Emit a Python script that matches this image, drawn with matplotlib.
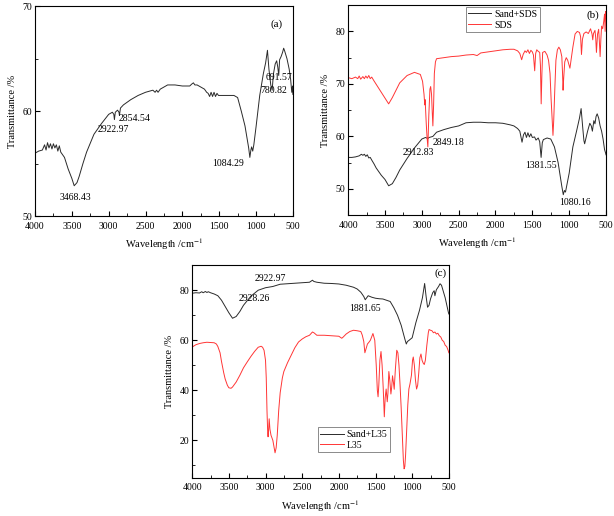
import numpy as np
import matplotlib
matplotlib.use("Agg")
import matplotlib.pyplot as plt
from matplotlib.ticker import MultipleLocator

plt.rcParams['font.family'] = ['Liberation Serif', 'DejaVu Serif']
plt.rcParams['mathtext.fontset'] = 'stix'

# — DATA —
# panel (a): sand
wn_a = [4000, 3950, 3900, 3870, 3850, 3830, 3810, 3790, 3770, 3750, 3730, 3710, 3690, 3670,
        3650, 3600, 3550, 3500, 3468, 3430, 3400, 3350, 3300, 3200, 3100, 3000, 2950,
        2930, 2922, 2910, 2880, 2860, 2854, 2840, 2800, 2700, 2600, 2500, 2400, 2370,
        2350, 2330, 2300, 2200, 2100, 2000, 1900, 1870, 1850, 1830, 1800, 1750, 1700,
        1670, 1650, 1630, 1610, 1590, 1570, 1550, 1530, 1510, 1500, 1400, 1300, 1250,
        1200, 1150, 1100, 1084, 1070, 1060, 1045, 1030, 1000, 950, 900, 870, 845, 825,
        800, 781, 765, 740, 720, 705, 692, 680, 660, 640, 625, 610, 580, 550, 530,
        515, 505, 500]
tr_a = [56.0, 56.2, 56.3, 56.8, 56.3, 57.0, 56.5, 56.9, 56.4, 56.9, 56.5, 56.8, 56.2, 56.7,
        56.1, 55.6, 54.5, 53.6, 52.9, 53.2, 53.8, 55.0, 56.1, 57.8, 58.8, 59.7, 59.9,
        59.7, 59.2, 59.9, 60.1, 59.9, 59.6, 60.3, 60.6, 61.1, 61.5, 61.8, 62.0, 61.8,
        62.0, 61.8, 62.1, 62.5, 62.5, 62.4, 62.4, 62.6, 62.7, 62.5, 62.5, 62.3, 62.1,
        61.8, 61.7, 61.4, 61.8, 61.4, 61.8, 61.4, 61.7, 61.5, 61.5, 61.5, 61.5, 61.3,
        60.0, 58.6, 56.5, 55.6, 56.3, 56.6, 56.2, 56.8, 58.5, 61.5, 63.6, 64.6, 65.8, 64.0,
        62.5, 62.0, 63.5, 64.5, 64.8, 64.2, 63.4, 64.9, 65.2, 65.6, 66.0, 65.7, 65.0, 64.0, 63.0,
        61.8, 62.4, 61.6]

# panel (b): Sand+SDS and SDS
wn_b_sand = [4000, 3950, 3900, 3850, 3820, 3800, 3780, 3760, 3740, 3720, 3700, 3680, 3650,
             3620, 3600, 3550, 3500, 3450, 3400, 3350, 3300, 3200, 3100, 3000, 2950, 2920,
             2900, 2850, 2800, 2700, 2600, 2500, 2400, 2300, 2200, 2100, 2000, 1900, 1800,
             1750, 1700, 1670, 1640, 1620, 1600, 1580, 1560, 1540, 1520, 1500, 1470, 1450,
             1420, 1400, 1381, 1365, 1350, 1300, 1250, 1200, 1150, 1100, 1080, 1065, 1050,
             1000, 950, 900, 860, 838, 815, 800, 790, 775, 750, 720, 700, 685, 665, 650,
             635, 620, 600, 580, 560, 540, 520, 505, 500]
tr_b_sand = [56.0, 56.0, 56.1, 56.3, 56.6, 56.4, 56.6, 56.2, 56.5, 55.9, 56.0, 55.5, 54.8,
             54.0, 53.6, 52.6, 51.8, 50.6, 51.0, 52.2, 53.6, 55.8, 57.8, 59.5, 59.8, 59.6,
             59.8, 60.0, 60.8, 61.3, 61.7, 62.0, 62.6, 62.7, 62.7, 62.6, 62.6, 62.5, 62.2,
             62.0, 61.5, 61.0, 58.9, 60.3, 60.8, 59.8, 60.7, 59.9, 60.5, 59.8, 59.9, 59.3,
             59.7, 59.0, 56.0, 58.8, 59.4, 59.7, 59.5, 58.0, 55.0, 50.5, 48.9, 49.7, 49.4,
             53.0, 58.0, 61.0, 63.5, 65.3, 61.5, 59.2, 58.6, 59.5, 61.0, 62.5, 62.0, 61.0, 63.0, 62.4,
             63.8, 64.3, 63.5, 62.0, 61.0, 59.5, 57.5, 56.8, 56.5]

wn_b_sds = [4000, 3950, 3900, 3870, 3850, 3830, 3800, 3780, 3760, 3740, 3720, 3700, 3680,
            3650, 3600, 3550, 3500, 3450, 3400, 3350, 3300, 3200, 3100, 3020, 2990, 2970,
            2960, 2955, 2940, 2930, 2918, 2905, 2890, 2880, 2868, 2858, 2850, 2840, 2830,
            2815, 2800, 2700, 2600, 2500, 2400, 2300, 2250, 2200, 2100, 2000, 1900, 1800,
            1750, 1700, 1670, 1645, 1625, 1600, 1580, 1560, 1540, 1520, 1500, 1485, 1468,
            1455, 1440, 1420, 1400, 1390, 1380, 1370, 1360, 1330, 1300, 1280, 1260, 1245,
            1230, 1220, 1210, 1195, 1180, 1160, 1140, 1120, 1100, 1090, 1083, 1075, 1060,
            1040, 1020, 1000, 990, 970, 950, 920, 890, 860, 845, 833, 820, 800, 770, 740,
            710, 690, 680, 670, 650, 640, 630, 615, 600, 590, 580, 570, 560, 545, 530, 520,
            512, 505, 500]
tr_b_sds = [71.2, 71.0, 71.3, 71.0, 71.5, 70.9, 71.4, 71.0, 71.5, 71.1, 71.6, 71.0, 71.3,
            70.6, 69.5, 68.4, 67.3, 66.2, 67.4, 68.8, 70.2, 71.6, 72.2, 71.8, 70.5, 68.0,
            66.0, 67.0, 62.5, 60.0, 58.0, 64.0, 69.0, 69.5, 68.0, 64.5, 62.0, 66.0, 72.0,
            74.2, 74.8, 75.0, 75.2, 75.3, 75.5, 75.6, 75.4, 75.9, 76.1, 76.3, 76.5, 76.6,
            76.6, 76.3, 75.8, 74.6, 75.6, 76.3, 76.0, 76.5, 75.8, 76.4, 76.1, 75.5, 72.5,
            75.8, 76.5, 76.2, 76.0, 73.5, 66.2, 72.0, 76.0, 76.2, 75.5, 74.5, 72.0, 67.0,
            63.0, 60.2, 63.0, 69.0, 74.5, 76.5, 77.0, 76.5, 75.2, 72.0, 68.8, 71.0, 74.2,
            75.0, 74.5, 73.5, 73.0, 75.0, 77.0, 79.5, 80.0, 79.8, 79.0, 75.6, 78.5, 79.6,
            79.9, 79.6, 80.5, 79.5, 78.4, 79.6, 80.2, 78.8, 76.0, 79.5, 80.4, 78.0, 75.2,
            78.5, 81.0, 80.5, 82.0, 83.3, 80.0, 83.8, 82.5]

# panel (c): Sand+L35 and L35
wn_c_sand = [4000, 3950, 3900, 3870, 3850, 3820, 3800, 3780, 3750, 3700, 3650, 3600, 3550,
             3500, 3450, 3400, 3350, 3300, 3200, 3100, 3000, 2900, 2800, 2700, 2600, 2500,
             2400, 2360, 2340, 2300, 2200, 2100, 2000, 1900, 1800, 1750, 1700, 1660, 1640,
             1620, 1600, 1550, 1500, 1450, 1400, 1350, 1300, 1250, 1200, 1150, 1100, 1080,
             1065, 1050, 1000, 950, 900, 860, 830, 810, 790, 770, 750, 720, 700, 690, 670,
             640, 620, 600, 580, 550, 520, 505, 500]
tr_c_sand = [78.8, 79.0, 78.9, 79.4, 79.0, 79.5, 79.1, 79.4, 79.0, 78.5, 77.8, 76.0, 73.5,
             71.0, 68.8, 69.5, 71.5, 74.0, 77.6, 80.0, 81.0, 81.5, 82.4, 82.6, 82.8, 83.0,
             83.2, 84.0, 83.5, 83.2, 82.8, 82.7, 82.5, 82.0, 81.2, 80.5, 79.2, 77.5, 76.2,
             77.0, 77.8, 77.2, 76.8, 76.6, 76.5, 76.0, 75.5, 73.0, 70.0, 66.0, 60.5, 58.5,
             59.5, 59.8, 61.0, 67.0, 72.0, 77.0, 82.7, 77.5, 73.2, 74.0, 76.5, 79.0, 79.8,
             77.8, 80.2, 81.5, 82.6, 82.0, 80.0, 77.0, 73.0, 71.0, 70.5]

# L35 as (wavenumber, transmittance) pairs
l35_pts = [(4000, 57.3), (3950, 58.2), (3900, 58.7), (3850, 59.0), (3800, 59.2), (3750, 59.1),
           (3700, 59.0), (3670, 58.5), (3650, 57.5), (3620, 55.0), (3600, 51.5), (3570, 47.0),
           (3550, 44.5), (3520, 42.0), (3500, 41.0), (3470, 40.8), (3450, 41.3), (3400, 43.3),
           (3350, 46.0), (3300, 49.0), (3250, 51.3), (3200, 53.5), (3150, 55.5), (3100, 57.2),
           (3060, 57.6), (3040, 57.2), (3020, 56.0), (3000, 52.0), (2990, 45.0), (2980, 32.0),
           (2970, 23.0), (2965, 21.4), (2958, 24.0), (2950, 28.6), (2940, 24.5), (2925, 22.0),
           (2900, 20.0), (2885, 17.5), (2870, 15.0), (2855, 17.0), (2840, 22.0), (2820, 32.0),
           (2800, 39.0), (2770, 45.0), (2750, 47.5), (2700, 51.0), (2650, 54.0), (2600, 57.0),
           (2550, 59.3), (2500, 60.5), (2450, 61.4), (2400, 62.0), (2360, 63.3), (2340, 63.0),
           (2300, 62.0), (2200, 62.0), (2100, 61.8), (2000, 61.6), (1960, 60.8), (1940, 61.3),
           (1900, 62.5), (1850, 63.5), (1800, 64.0), (1750, 63.8), (1700, 63.5), (1680, 62.0),
           (1660, 59.5), (1645, 55.0), (1630, 56.5), (1610, 58.5), (1590, 59.2), (1570, 60.0),
           (1550, 61.5), (1535, 62.7), (1510, 60.0), (1490, 50.0), (1475, 40.0), (1465, 37.4),
           (1455, 42.0), (1440, 52.0), (1425, 55.5), (1410, 50.0), (1395, 41.0), (1380, 29.4),
           (1368, 37.0), (1355, 40.5), (1340, 35.4), (1330, 39.0), (1318, 47.5), (1305, 44.0),
           (1290, 38.5), (1280, 41.0), (1268, 45.8), (1255, 43.0), (1245, 40.4), (1230, 48.0),
           (1210, 56.0), (1195, 55.0), (1180, 50.0), (1165, 42.0), (1150, 33.0), (1135, 22.0),
           (1120, 12.0), (1110, 8.6), (1100, 9.5), (1090, 14.0), (1075, 24.0), (1060, 34.0),
           (1045, 40.5), (1030, 42.5), (1010, 46.0), (995, 52.0), (985, 53.3), (970, 50.0),
           (955, 44.0), (940, 40.5), (925, 42.0), (910, 47.0), (895, 53.0), (880, 54.5),
           (865, 52.0), (850, 50.9), (835, 50.3), (820, 52.0), (800, 58.0), (780, 63.0),
           (770, 64.3), (750, 64.0), (730, 63.8), (710, 63.0), (690, 63.3), (670, 62.5),
           (650, 62.8), (630, 61.8), (610, 61.3), (590, 60.0), (570, 59.5), (550, 58.0),
           (530, 57.5), (510, 56.0), (500, 55.0)]
wn_c_l35 = [p[0] for p in l35_pts]
tr_c_l35 = [p[1] for p in l35_pts]

BLACK = '#2a2a2a'
RED = '#ff3535'
FS = 7          # tick labels, annotations, legend
FS_LAB = 7.5    # axis labels


def style_axes(ax, ylim, ymaj, ymin):
    ax.set_xlim(4000, 500)
    ax.set_ylim(*ylim)
    ax.xaxis.set_major_locator(MultipleLocator(500))
    ax.xaxis.set_minor_locator(MultipleLocator(250))
    ax.yaxis.set_major_locator(MultipleLocator(ymaj))
    ax.yaxis.set_minor_locator(MultipleLocator(ymin))
    ax.tick_params(which='both', direction='in', labelsize=FS)
    ax.tick_params(axis='x', pad=4)
    ax.tick_params(axis='y', pad=2)
    ax.tick_params(which='major', length=3.5)
    ax.tick_params(which='minor', length=2)
    for sp in ax.spines.values():
        sp.set_linewidth(0.8)
    ax.set_xlabel('Wavelength /cm$^{-1}$', fontsize=FS_LAB, labelpad=4)
    ax.set_ylabel('Transmittance /%', fontsize=FS_LAB)


def add_legend(ax, loc, anchor):
    leg = ax.legend(loc=loc, bbox_to_anchor=anchor, fontsize=FS, frameon=True,
                    fancybox=False, edgecolor='#555555', handlelength=2.4, borderpad=0.25,
                    labelspacing=0.2, handletextpad=0.3, borderaxespad=0)
    leg.get_frame().set_linewidth(0.6)


fig = plt.figure(figsize=(6.14, 5.16), dpi=100)

# (a)
ax_a = fig.add_axes([0.057, 0.581, 0.420, 0.407])
ax_a.plot(wn_a, tr_a, color=BLACK, lw=0.7)
style_axes(ax_a, (50, 70), 10, 5)
for x, y, s in [(3450, 51.8, '3468.43'), (2942, 58.3, '2922.97'), (2650, 59.3, '2854.54'),
                (1374, 55.05, '1084.29'), (689, 63.2, '691.57'), (757, 62.0, '780.82')]:
    ax_a.text(x, y, s, fontsize=FS, ha='center', va='center')
ax_a.text(716, 68.3, '(a)', fontsize=FS + 1, ha='center', va='center')

# (b)
ax_b = fig.add_axes([0.567, 0.583, 0.420, 0.407])
ax_b.plot(wn_b_sand, tr_b_sand, color=BLACK, lw=0.7, label='Sand+SDS')
ax_b.plot(wn_b_sds, tr_b_sds, color=RED, lw=0.7, label='SDS')
style_axes(ax_b, (45, 85), 10, 5)
for x, y, s in [(3050, 56.85, '2912.83'), (2643, 58.9, '2849.18'),
                (1381, 54.4, '1381.55'), (924, 47.4, '1080.16')]:
    ax_b.text(x, y, s, fontsize=FS, ha='center', va='center')
ax_b.text(675, 83, '(b)', fontsize=FS + 1, ha='center', va='center')
add_legend(ax_b, 'upper left', (0.456, 0.99))

# (c)
ax_c = fig.add_axes([0.313, 0.074, 0.418, 0.412])
ax_c.plot(wn_c_sand, tr_c_sand, color=BLACK, lw=0.7, label='Sand+L35')
ax_c.plot(wn_c_l35, tr_c_l35, color=RED, lw=0.7, label='L35')
style_axes(ax_c, (5, 90), 20, 10)
for x, y, s in [(2938, 84.7, '2922.97'), (3156, 76.8, '2928.26'), (1644, 72.6, '1881.65')]:
    ax_c.text(x, y, s, fontsize=FS, ha='center', va='center')
ax_c.text(613, 86.9, '(c)', fontsize=FS + 1, ha='center', va='center')
add_legend(ax_c, 'lower left', (0.49, 0.12))

fig.savefig('out.png', dpi=100)
